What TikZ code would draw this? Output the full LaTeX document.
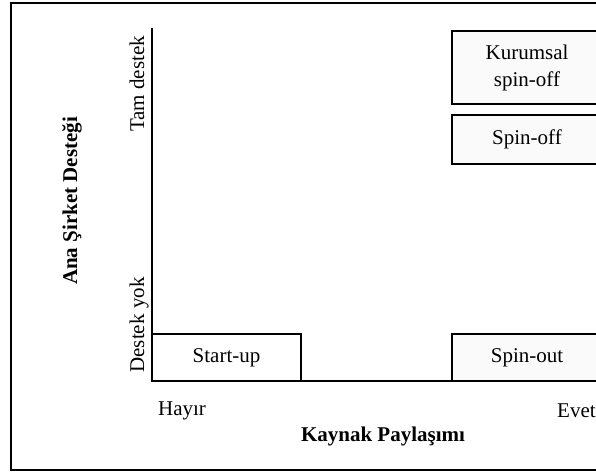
\documentclass[tikz,border=0pt]{standalone}
\usepackage{fontspec}
\setmainfont{Liberation Serif}
\begin{document}
\begin{tikzpicture}[x=1pt,y=-1pt,
  txt/.style={font=\fontsize{21}{27}\selectfont, inner sep=0pt},
  btxt/.style={font=\fontsize{21}{27}\selectfont\bfseries, inner sep=0pt},
  cell/.style={draw, line width=1.3pt, fill=gray!4, inner sep=0pt, align=center,
    font=\fontsize{21}{27}\selectfont, minimum width=150pt},
  axis/.style={line width=2pt}]
\useasboundingbox (0,0) rectangle (596,474);
\clip (0,0) rectangle (596,474);
\draw[line width=2.2pt] (11,3) rectangle (640,470);
% axes
\coordinate (top) at (152,28);
\coordinate (origin) at (152,381);
\coordinate (right) at (640,381);
\draw[axis] (top) -- (origin) -- (right);
% cells
\node[cell, minimum height=73pt] (kurumsal) at (527,67.5) {Kurumsal\\spin-off};
\node[cell, minimum height=49pt] (spinoff) at (527,139.5) {Spin-off};
\node[cell, minimum height=47pt] (spinout) at (527,357.5) {Spin-out};
\node[cell, fill=white, minimum width=149pt, minimum height=47pt] (startup) at (226.5,357.5) {Start-up};
% labels
\node[txt] (hayir) at (182,411) {Hayır};
\node[txt, anchor=west] (evet) at (557,411) {Evet};
\node[btxt] (xlab) at (383,436) {Kaynak Paylaşımı};
\node[btxt, rotate=90] (ylab) at (72,201) {Ana Şirket Desteği};
\node[txt, rotate=90] (tam) at (137,84) {Tam destek};
\node[txt, rotate=90] (yok) at (139,325) {Destek yok};
\end{tikzpicture}
\end{document}
